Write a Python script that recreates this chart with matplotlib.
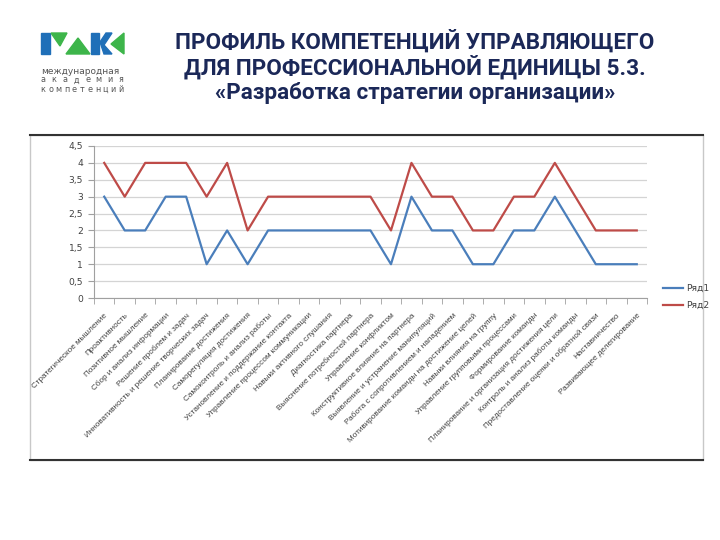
import matplotlib.pyplot as plt
from matplotlib.patches import Polygon, Rectangle
from matplotlib.ticker import FuncFormatter

# data
categories = [
    "Стратегическое мышление",
    "Проактивность",
    "Позитивное мышление",
    "Сбор и анализ информации",
    "Решение проблем и задач",
    "Инновативность и решение творческих задач",
    "Планирование достижения",
    "Саморегуляция достижения",
    "Самоконтроль и анализ работы",
    "Установление и поддержание контакта",
    "Управление процессом коммуникации",
    "Навыки активного слушания",
    "Диагностика партнера",
    "Выяснение потребностей партнера",
    "Управление конфликтом",
    "Конструктивное влияние на партнера",
    "Выявление и устранение манипуляций",
    "Работа с сопротивлением и нападением",
    "Мотивирование команды на достижение целей",
    "Навыки влияния на группу",
    "Управление групповыми процессами",
    "Формирование команды",
    "Планирование и организация достижения цели",
    "Контроль и анализ работы команды",
    "Предоставление оценки и обратной связи",
    "Наставничество",
    "Развивающее делегирование",
]
row1 = [3, 2, 2, 3, 3, 1, 2, 1, 2, 2, 2, 2, 2, 2, 1, 3, 2, 2, 1, 1, 2, 2, 3, 2, 1, 1, 1]
row2 = [4, 3, 4, 4, 4, 3, 4, 2, 3, 3, 3, 3, 3, 3, 2, 4, 3, 3, 2, 2, 3, 3, 4, 3, 2, 2, 2]
series_names = ["Ряд1", "Ряд2"]
y_ticks = [0, 0.5, 1, 1.5, 2, 2.5, 3, 3.5, 4, 4.5]

title_lines = [
    "ПРОФИЛЬ КОМПЕТЕНЦИЙ УПРАВЛЯЮЩЕГО",
    "ДЛЯ ПРОФЕССИОНАЛЬНОЙ ЕДИНИЦЫ 5.3.",
    "«Разработка стратегии организации»",
]
logo_words = ["международная", "академия", "компетенций"]

W, H = 720, 540
fig = plt.figure(figsize=(7.2, 5.4), dpi=100)

# overlay in pixel coords for the frame, logo and title
bg = fig.add_axes([0, 0, 1, 1])
bg.set_xlim(0, W)
bg.set_ylim(H, 0)
bg.axis("off")

# chart frame
bg.add_patch(Rectangle((30, 135), 673, 325, fill=False, edgecolor="#c8c8c8", lw=1))
bg.plot([30, 703], [135, 135], color="#333333", lw=1.5)
bg.plot([30, 703], [460, 460], color="#333333", lw=1.5)

# logo
blue = "#1f6fb8"
green = "#3db54a"
bg.add_patch(Polygon([(41, 33), (50, 33), (50, 54), (41, 54)], color=blue))
bg.add_patch(Polygon([(51, 33), (67, 33), (60, 46)], color=green))
bg.add_patch(Polygon([(66, 54), (90, 54), (78, 38)], color=green))
bg.add_patch(Polygon([(91, 33), (99, 33), (99, 54), (91, 54)], color=blue))
bg.add_patch(Polygon([(100, 42), (106, 33), (112, 33), (104, 45), (112, 54), (104, 54)], color=blue))
bg.add_patch(Polygon([(124, 33), (124, 54), (111, 44)], color=green))
bg.text(41, 71, logo_words[0], fontsize=6.5, color="#555555", family="DejaVu Sans", va="center")
# spread the letters of the last two words across the logo width
for word, yy in zip(logo_words[1:], [80, 89]):
    step = (121 - 43) / (len(word) - 1)
    for i, ch in enumerate(word):
        bg.text(43 + i * step, yy, ch, fontsize=5.8, color="#555555", family="DejaVu Sans",
                ha="center", va="center")

# title
title_color = "#1b2858"
for line, yy in zip(title_lines, [42, 67, 93]):
    bg.text(415, yy, line, ha="center", va="center", fontsize=16.2, fontweight="bold",
            color=title_color, family="Roboto")

# the line chart
ax = fig.add_axes([94 / W, 1 - 298 / H, (647 - 94) / W, (298 - 146) / H])
x = list(range(len(categories)))
ax.plot(x, row1, color="#4a7ebb", lw=1.6, label=series_names[0])
ax.plot(x, row2, color="#be4b48", lw=1.6, label=series_names[1])

ax.set_xlim(-0.5, len(categories) - 0.5)
ax.set_ylim(0, 4.5)
ax.set_yticks(y_ticks)
ax.yaxis.set_major_formatter(FuncFormatter(lambda v, p: f"{v:g}".replace(".", ",")))
ax.grid(axis="y", color="#d4d4d4", lw=0.9)
ax.set_axisbelow(True)

ax.set_xticks(x)
ax.set_xticklabels(categories, rotation=45, ha="right", rotation_mode="anchor",
                   fontsize=5.9, color="#404040", family="Liberation Sans")
ax.tick_params(axis="x", which="major", length=0, pad=10)
ax.set_xticks([i - 0.5 for i in range(len(categories) + 1)], minor=True)
ax.tick_params(axis="x", which="minor", length=4, color="#a0a0a0")
ax.tick_params(axis="y", length=4, color="#a0a0a0", labelsize=6.6, labelcolor="#404040", pad=4)

for side in ["top", "right"]:
    ax.spines[side].set_visible(False)
ax.spines["left"].set_color("#a0a0a0")
ax.spines["bottom"].set_color("#a0a0a0")

fig.legend(loc="center left", bbox_to_anchor=(655 / W, 1 - 297 / H), frameon=False,
           fontsize=6.6, handlelength=2.2, handletextpad=0.3, labelspacing=0.9,
           labelcolor="#404040")

fig.savefig("out.png", dpi=100)
